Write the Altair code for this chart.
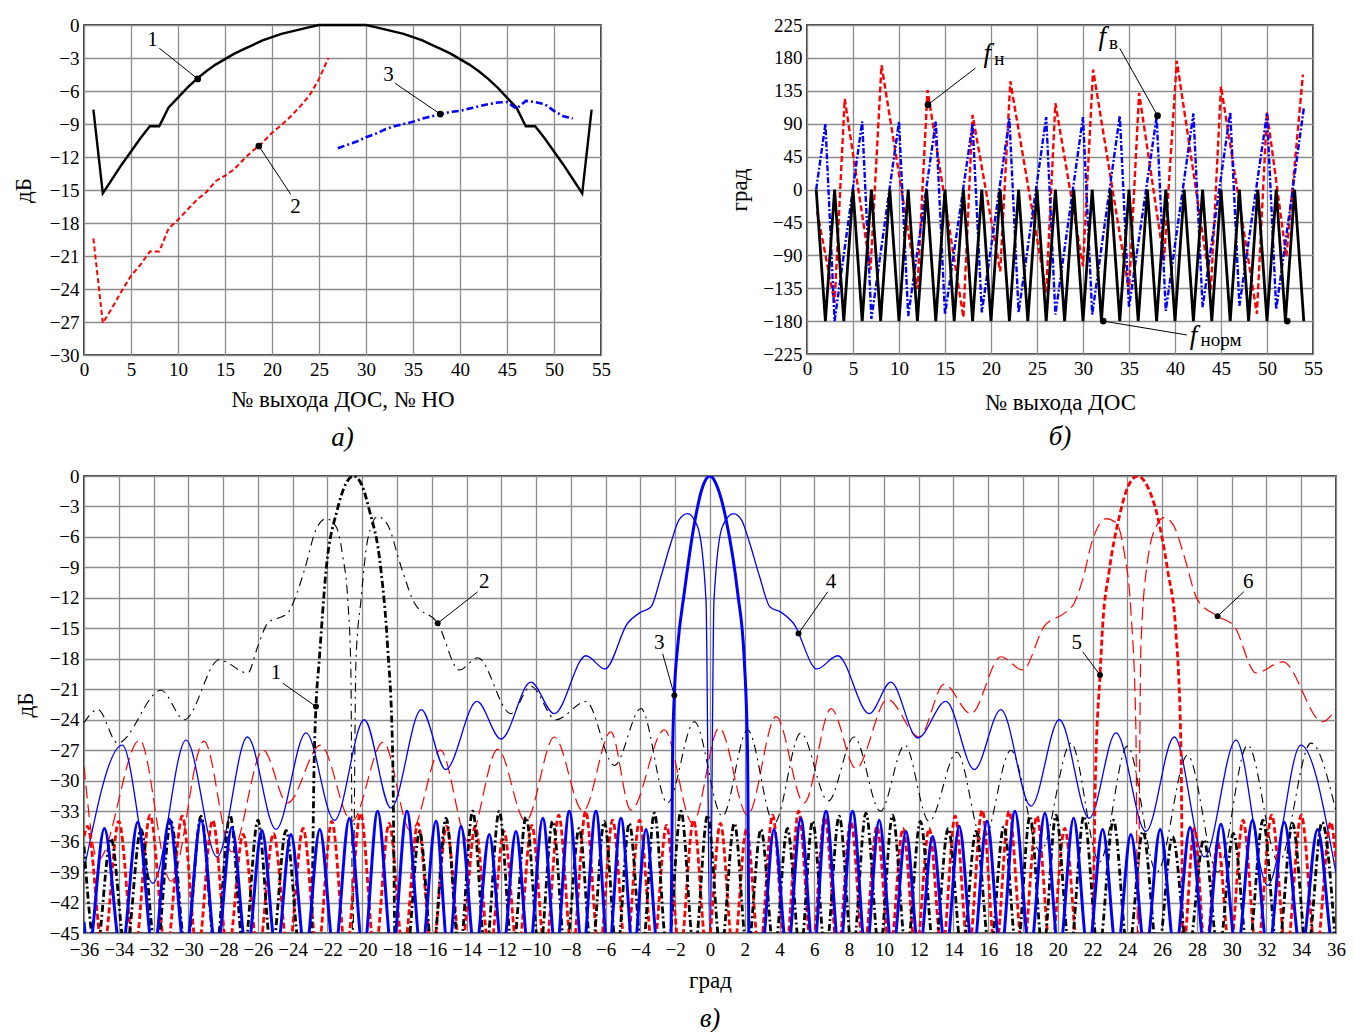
import altair as alt
import pandas as pd

FONT = "Liberation Serif"
RED = "#ff0000"
BLUE = "#0000ff"
BLACK = "#000000"

# ======================= Panel а) =======================
A_X1 = list(range(1, 55))
A_Y1 = [-7.7, -15.3, -14.0, -12.7, -11.5, -10.3, -9.2, -9.2, -7.5, -6.6,
        -5.7, -4.9, -4.2, -3.6, -3.1, -2.6, -2.2, -1.8, -1.4, -1.1,
        -0.8, -0.6, -0.4, -0.2, 0.0, 0.0, 0.0, 0.0, 0.0, 0.0,
        -0.2, -0.4, -0.6, -0.8, -1.1, -1.4, -1.8, -2.2, -2.6, -3.1,
        -3.6, -4.2, -4.9, -5.7, -6.6, -7.5, -9.2, -9.2, -10.3, -11.5,
        -12.7, -14.0, -15.3, -7.7]
A_X2 = list(range(1, 27))
A_Y2 = [-19.4, -27.1, -25.7, -24.2, -22.8, -21.8, -20.6, -20.6, -18.5, -17.7,
        -16.8, -15.9, -15.2, -14.2, -13.7, -13.1, -12.2, -11.4, -10.7, -9.8,
        -9.1, -8.3, -7.4, -6.4, -4.9, -3.0]
A_X3 = list(range(27, 53))
A_Y3 = [-11.2, -10.9, -10.6, -10.2, -9.9, -9.5, -9.2, -9.0, -8.8, -8.5,
        -8.3, -8.1, -7.9, -7.8, -7.6, -7.4, -7.2, -7.05, -7.0, -7.6,
        -6.9, -7.0, -7.2, -7.8, -8.3, -8.5]
A_LABEL_TEXT = ["1", "2", "3"]
A_LABEL_X = [7.3, 22.5, 32.4]
A_LABEL_Y = [-1.4, -16.5, -4.5]
A_DOT_X = [12.1, 18.6, 37.9]
A_DOT_Y = [-4.9, -11.0, -8.1]
A_LEAD_X = [8.0, 22.0, 33.1]
A_LEAD_Y = [-2.1, -15.4, -5.3]
A_XTICKS = [0, 5, 10, 15, 20, 25, 30, 35, 40, 45, 50, 55]
A_YTICKS = [0, -3, -6, -9, -12, -15, -18, -21, -24, -27, -30]

# ======================= Panel б) =======================
B_RED_X = [1.1, 3.0, 4.1, 6.9, 8.1, 12.0, 13.1, 17.0, 18.0, 21.0, 22.1, 26.0, 27.0,
           30.0, 31.1, 35.0, 36.1, 38.8, 40.2, 43.9, 45.0, 48.9, 50.0, 52.1, 53.9]
B_RED_Y = [-30, -155, 124, -110, 170, -136, 136, -175, 102, -112, 148, -141, 118,
           -105, 164, -139, 132, -97, 176, -137, 141, -170, 106, -92, 157]
B_BLUE_X = [1, 2, 3, 6, 7, 10, 11, 14, 15, 18, 19, 22, 23, 26, 27, 30, 31, 34, 35,
            38, 39, 42, 43, 46, 47, 50, 51, 54]
B_BLUE_Y = [0, 90, -180, 93, -177, 93, -173, 93, -171, 90, -168, 97, -168, 99, -171,
            99, -171, 101, -161, 99, -166, 104, -161, 106, -159, 104, -164, 111]
B_BLACK_X = list(range(1, 55))
B_BLACK_Y = [0, -180, 0, -180, 0, -180, 0, -180, 0, -180, 0, -180, 0, -180, 0, -180,
             0, -180, 0, -180, 0, -180, 0, -180, 0, -180, 0, -180, 0, -180, 0, -180,
             0, -180, 0, -180, 0, -180, 0, -180, 0, -180, 0, -180, 0, -180, 0, -180,
             0, -180, 0, -180, 0, -180]
B_DOT_X = [13.15, 38.1, 32.2, 52.2]
B_DOT_Y = [116, 101, -180, -180]
B_LEAD_X = [13.15, 38.1, 32.2]
B_LEAD_Y = [116, 101, -180]
B_LEAD_X2 = [18.3, 34.0, 41.3]
B_LEAD_Y2 = [166, 193, -199]
B_F_X = [19.6, 32.1, 42.0]
B_F_Y = [186, 209, -200]
B_SUB_TEXT = ["н", "в", "норм"]
B_SUB_X = [20.9, 33.3, 45.0]
B_SUB_Y = [179, 200, -206]
B_XTICKS = [0, 5, 10, 15, 20, 25, 30, 35, 40, 45, 50, 55]
B_YTICKS = [225, 180, 135, 90, 45, 0, -45, -90, -135, -180, -225]

# ======================= Panel в) =======================
NUL = -47  # lobes drop below the -45 dB frame

C1_X = [-36.0, -35.3, -34.45, -33.6, -32.72, -31.85, -31.0, -30.13, -29.27, -28.43, -27.6,
        -26.8, -26.0, -25.2, -24.38, -23.55,
        -22.95, -22.75, -22.66, -22.47, -22.08, -21.43, -20.95, -20.5, -20.05, -19.6, -18.92,
        -18.54, -18.25, -18.1,
        -17.45, -16.7, -15.95, -15.18, -14.4, -13.65, -12.9, -12.12, -11.35, -10.58, -9.8,
        -9.05, -8.3, -7.52, -6.8, -6.08, -5.35, -4.64, -3.9, -3.2, -2.45, -1.67, -0.9, -0.14,
        0.63, 1.4, 2.15, 2.93, 3.7, 4.45, 5.2, 5.9, 6.65, 7.43, 8.2, 8.97, 9.75, 10.5, 11.3,
        12.1, 12.9, 13.7, 14.5, 15.3, 16.1, 16.9, 17.65, 18.4, 19.15, 19.9, 20.7, 21.5, 22.35,
        23.2, 24.05, 24.9, 25.75, 26.6, 27.5, 28.4, 29.25, 30.1, 30.95, 31.8, 32.65, 33.5,
        34.35, 35.2, 36.0]
C1_Y = [-36.5, NUL, -35.7, NUL, -34.8, NUL, -34.0, NUL, -33.5, NUL, -33.4,
        NUL, -33.9, NUL, -34.9, NUL,
        NUL, -27.0, -22.7, -18.1, -9.3, -3.3, -0.8, 0.0, -0.8, -3.3, -9.3,
        -16.8, -27.3, NUL,
        NUL, -35.0, NUL, -33.7, NUL, -33.0, NUL, -33.0, NUL, -33.6, NUL,
        -34.0, NUL, -34.7, NUL, -34.0, NUL, -34.2, NUL, -33.2, NUL, -33.0, NUL, -33.4,
        NUL, -34.2, NUL, -34.8, NUL, -34.7, NUL, -34.0, NUL, -33.5, NUL, -33.2, NUL, -33.4, NUL,
        -34.0, NUL, -34.7, NUL, -35.0, NUL, -34.5, NUL, -33.5, NUL, -33.4, NUL, -33.5, NUL,
        -33.9, NUL, -35.0, NUL, -35.5, NUL, -35.8, NUL, -35.2, NUL, -33.9, NUL, -34.2,
        NUL, -34.1, NUL]

C2_X = [-36.0, -35.2, -34.06, -31.57, -30.23, -28.22, -26.59, -26.01, -25.44, -24.29, -23.9,
        -23.33, -22.66, -22.08, -21.5, -21.12, -20.83, -20.65, -20.55, -20.36, -20.07, -19.69,
        -19.11, -18.54, -17.77, -17.0, -15.66, -14.42, -13.36, -11.45, -10.3, -8.86, -7.13,
        -5.5, -3.97, -2.45, -0.9, 0.71, 2.16, 3.69, 5.22, 6.8, 8.29, 9.8, 11.2, 12.6, 14.2,
        15.7, 17.3, 19.0, 20.76, 22.4, 24.0, 25.7, 27.46, 29.2, 30.92, 32.7, 34.56, 36.0]
C2_Y = [-24.3, -23.0, -26.3, -21.1, -24.0, -18.1, -19.4, -16.8, -14.5, -13.5, -12.2,
        -9.3, -5.3, -4.2, -5.0, -7.9, -12.2, -19.4, NUL, -18.1, -12.2, -6.3,
        -4.0, -4.8, -8.9, -12.5, -14.5, -19.1, -17.9, -23.4, -20.7, -24.0, -22.2,
        -28.5, -22.9, -32.2, -24.2, -33.5, -25.0, -34.2, -25.3, -32.0, -25.7, -33.0, -26.5,
        -34.0, -27.2, -36.0, -27.0, -37.0, -26.3, -38.0, -26.6, -39.0, -27.5, -39.0, -26.5,
        -38.0, -26.3, -33.0]

C3_X = [-36.0, -35.75, -34.83, -33.85, -32.91, -32.0, -31.09, -30.18, -29.27, -28.38, -27.5,
        -26.63, -25.77, -24.93, -24.1, -23.27, -22.44, -21.6, -20.74, -19.93, -19.11, -18.27,
        -17.43, -16.6, -15.76, -15.04, -14.32, -13.5, -12.69, -11.93, -11.16, -10.4, -9.62,
        -8.85, -8.09, -7.32, -6.56, -5.84, -5.12, -4.4, -3.68, -2.95,
        -2.25, -2.15, -2.05, -1.86, -1.48, -0.9, -0.45, 0.0, 0.45, 0.95, 1.59, 1.97, 2.16, 2.25,
        2.95, 3.68, 4.45, 5.22, 5.95, 6.67, 7.45, 8.2, 8.97, 9.73, 10.5, 11.27, 12.03, 12.8,
        13.57, 14.33, 15.13, 15.93, 16.73, 17.54, 18.4, 19.26, 20.08, 20.91, 21.75, 22.58,
        23.4, 24.2, 25.05, 25.89, 26.75, 27.61, 28.5, 29.38, 30.3, 31.2, 32.1, 33.02, 34.0,
        34.94, 35.9, 36.0]
C3_Y = [-43.9, NUL, -34.7, NUL, -34.1, NUL, -33.8, NUL, -33.9, NUL, -34.6,
        NUL, -34.9, NUL, -35.3, NUL, -34.8, NUL, -33.7, NUL, -33.0, NUL,
        -33.0, NUL, -34.0, NUL, -34.5, NUL, -35.3, NUL, -35.0, NUL, -33.7,
        NUL, -33.0, NUL, -33.0, NUL, -33.7, NUL, -34.8, NUL,
        NUL, -27.3, -21.4, -16.8, -11.5, -4.7, -1.2, 0.0, -1.2, -4.5, -11.5, -18.1, -27.3, NUL,
        NUL, -34.8, NUL, -33.7, NUL, -33.0, NUL, -33.0, NUL, -33.9, NUL, -35.0, NUL, -35.5,
        NUL, -34.5, NUL, -34.0, NUL, -33.0, NUL, -33.2, NUL, -33.7, NUL, -34.8,
        NUL, -35.3, NUL, -34.8, NUL, -34.6, NUL, -34.3, NUL, -33.9, NUL, -34.1, NUL,
        -34.8, NUL, -45.5]

C4_X = [-36.0, -33.8, -32.05, -30.13, -28.35, -26.6, -24.96, -23.23, -21.6, -19.88, -18.35,
        -16.6, -15.2, -13.4, -12.02, -10.3, -8.96, -7.13, -6.04, -4.74, -3.97, -3.4, -2.82,
        -2.25, -1.77, -1.29, -0.71, -0.23, 0.0, 0.23, 0.71, 1.35, 1.8, 2.28, 2.85, 3.45, 4.08,
        4.8, 6.15, 7.34, 9.16, 10.4, 11.94, 13.57, 15.2, 16.73, 18.46, 20.09, 21.81, 23.35,
        25.07, 26.7, 28.43, 30.25, 32.07, 33.98, 36.0]
C4_Y = [-38.8, -26.5, -40.1, -26.0, -37.5, -25.7, -34.8, -25.3, -33.9, -24.0, -32.7,
        -23.0, -28.9, -22.2, -25.9, -20.3, -23.4, -17.7, -19.0, -14.5, -13.4, -12.9, -9.9,
        -6.6, -4.3, -3.7, -5.0, -12.2, NUL, -12.2, -5.0, -3.7, -4.3, -6.6, -9.9, -12.9, -13.4,
        -14.5, -19.0, -17.7, -23.4, -20.3, -25.8, -22.2, -28.9, -23.0, -32.5, -24.0, -33.7,
        -25.3, -35.0, -25.7, -37.5, -26.0, -40.3, -26.5, -39.1]

C5_X = [-36.0, -35.8, -34.9, -34.0, -33.1, -32.2, -31.27, -30.35, -29.47, -28.6, -27.72,
        -26.85, -25.97, -25.1, -24.25, -23.4, -22.57, -21.75, -20.92, -20.1, -19.27, -18.45,
        -17.62, -16.8, -15.97, -15.15, -14.32, -13.5, -12.67, -11.85, -11.05, -10.25, -9.47,
        -8.7, -7.92, -7.15, -6.37, -5.6, -4.82, -4.05, -3.27, -2.5, -1.72, -0.95, -0.17, 0.6,
        1.35, 2.1, 2.85, 3.6, 4.35, 5.1, 5.85, 6.6, 7.35, 8.1, 8.85, 9.6, 10.35, 11.1, 11.85,
        12.6, 13.35, 14.1, 14.87, 15.65, 16.42, 17.2, 18.0, 18.8, 19.6, 20.4, 21.2,
        21.95, 22.2, 22.43, 22.58, 22.96, 23.54, 24.05, 24.6, 25.15, 25.74, 26.32, 26.8, 27.09,
        27.2, 27.85, 28.5, 29.2, 29.9, 30.65, 31.45, 32.3, 33.15, 34.0, 34.85, 35.7, 36.0]
C5_Y = [-35.5, -34.5, NUL, -34.0, NUL, -33.4, NUL, -33.5, NUL, -33.9, NUL,
        -35.3, NUL, -35.2, NUL, -34.7, NUL, -34.0, NUL, -33.2, NUL, -34.2,
        NUL, -34.2, NUL, -34.5, NUL, -34.5, NUL, -35.0, NUL, -34.4, NUL,
        -33.4, NUL, -33.0, NUL, -33.9, NUL, -33.9, NUL, -34.4, NUL, -33.9, NUL, -34.2,
        NUL, -34.8, NUL, -33.4, NUL, -33.0, NUL, -33.5, NUL, -34.0, NUL, -34.5, NUL, -34.7, NUL,
        -34.7, NUL, -33.5, NUL, -32.9, NUL, -33.0, NUL, -33.5, NUL, -34.7, NUL,
        NUL, -27.3, -19.6, -14.8, -9.3, -4.0, -1.0, 0.0, -1.0, -4.0, -9.3, -15.5, -27.3,
        NUL, -34.7, NUL, -36.1, NUL, -33.9, NUL, -33.4, NUL, -33.4, NUL, -34.1, -38.0]

C6_X = [-36.0, -35.2, -32.8, -31.0, -29.1, -27.5, -25.7, -24.3, -22.4, -20.6, -18.8, -17.2,
        -15.5, -13.9, -12.2, -10.6, -8.95, -7.3, -5.7, -4.55, -2.63, -1.0, 0.53, 2.16, 3.8,
        5.41, 6.96, 8.39, 10.21, 12.03, 13.47, 15.0, 16.73, 17.98, 19.22, 20.38, 20.95, 21.43,
        22.0, 22.77, 23.35, 23.83, 24.2, 24.49, 24.6, 24.78, 25.17, 25.65, 26.12, 26.7, 27.27,
        28.04, 29.19, 30.15, 31.4, 32.93, 35.23, 36.0]
C6_Y = [-28.6, -37.8, -26.0, -39.9, -26.1, -37.0, -27.0, -32.2, -26.5, -34.0, -26.2, -35.0,
        -27.0, -36.0, -26.9, -34.0, -25.7, -33.0, -25.2, -32.9, -25.0, -34.2, -24.8, -33.4, -23.7,
        -32.2, -22.9, -28.8, -22.0, -25.7, -20.5, -23.4, -17.8, -19.1, -14.8, -13.5, -12.5, -10.2,
        -6.3, -4.2, -4.6, -7.6, -13.2, -24.7, NUL, -16.8, -8.3, -5.0, -4.1, -5.0, -7.9,
        -12.2, -13.8, -14.8, -19.4, -18.3, -24.2, -22.9]

C_LABEL_TEXT = ["1", "2", "3", "4", "5", "6"]
C_LABEL_X = [-24.96, -12.98, -2.92, 6.96, 21.09, 30.96]
C_LABEL_Y = [-19.4, -10.4, -16.4, -10.4, -16.4, -10.4]
C_DOT_X = [-22.66, -15.66, -2.05, 5.09, 22.43, 29.19]
C_DOT_Y = [-22.7, -14.5, -21.6, -15.5, -19.6, -13.8]
C_LEAD_X = [-24.57, -13.36, -2.72, 6.77, 21.43, 30.7]
C_LEAD_Y = [-20.4, -11.4, -17.5, -11.4, -17.3, -11.4]
C_XTICKS = list(range(-36, 37, 2))
C_YTICKS = [0, -3, -6, -9, -12, -15, -18, -21, -24, -27, -30, -33, -36, -39, -42, -45]


# ======================= helpers =======================
def enc(xdom, ydom, xticks, yticks, xtitle, ytitle, xtp, ytp, xlp=5):
    x = alt.X("x:Q", scale=alt.Scale(domain=xdom, nice=False, zero=False),
              axis=alt.Axis(values=xticks, title=xtitle, titlePadding=xtp, labelPadding=xlp,
                            labelOverlap=False, labelFlush=False, grid=True))
    y = alt.Y("y:Q", scale=alt.Scale(domain=ydom, nice=False, zero=False),
              axis=alt.Axis(values=yticks, title=ytitle, titlePadding=ytp,
                            labelOverlap=False, labelFlush=False, grid=True))
    return x, y


def line(xs, ys, X, Y, color, width, dash=None, interp="linear", clip=False):
    kw = dict(color=color, strokeWidth=width, interpolate=interp, clip=clip)
    if dash:
        kw["strokeDash"] = dash
    return alt.Chart(pd.DataFrame({"x": xs, "y": ys})).mark_line(**kw).encode(x=X, y=Y)


def leaders(xs, ys, x2s, y2s, X, Y):
    df = pd.DataFrame({"x": xs, "y": ys, "x2": x2s, "y2": y2s})
    return alt.Chart(df).mark_rule(color=BLACK, strokeWidth=1).encode(
        x=X, y=Y, x2="x2:Q", y2="y2:Q")


def dots(xs, ys, X, Y, size=45):
    return alt.Chart(pd.DataFrame({"x": xs, "y": ys})).mark_circle(
        color=BLACK, size=size, opacity=1).encode(x=X, y=Y)


def texts(xs, ys, labels, X, Y, size=21, style="normal"):
    df = pd.DataFrame({"x": xs, "y": ys, "t": labels})
    return alt.Chart(df).mark_text(font=FONT, fontSize=size, fontStyle=style,
                                   color=BLACK, align="center", baseline="middle").encode(
        x=X, y=Y, text="t:N")


def caption(txt, off):
    return alt.TitleParams(txt, orient="bottom", font=FONT, fontSize=27, fontStyle="italic",
                           fontWeight="normal", color=BLACK, offset=off, anchor="middle")


# ======================= Panel а =======================
XA, YA = enc([0, 55], [-30, 0], A_XTICKS, A_YTICKS, "№ выхода ДОС, № НО", "дБ", 9, 14)
panel_a = alt.layer(
    line(A_X1, A_Y1, XA, YA, BLACK, 2.4),
    line(A_X2, A_Y2, XA, YA, RED, 2.0, [5, 3]),
    line(A_X3, A_Y3, XA, YA, BLUE, 2.6, [7, 3, 2, 3]),
    leaders(A_DOT_X, A_DOT_Y, A_LEAD_X, A_LEAD_Y, XA, YA),
    dots(A_DOT_X, A_DOT_Y, XA, YA),
    texts(A_LABEL_X, A_LABEL_Y, A_LABEL_TEXT, XA, YA),
).properties(width=517, height=330, title=caption("а)", 14))

# ======================= Panel б =======================
XB, YB = enc([0, 55], [-225, 225], B_XTICKS, B_YTICKS, "№ выхода ДОС", "град", 13, 11)
panel_b = alt.layer(
    line(B_RED_X, B_RED_Y, XB, YB, RED, 2.4, [6, 3]),
    line(B_BLUE_X, B_BLUE_Y, XB, YB, BLUE, 2.4, [6, 2, 2, 2]),
    line(B_BLACK_X, B_BLACK_Y, XB, YB, BLACK, 2.8),
    leaders(B_LEAD_X, B_LEAD_Y, B_LEAD_X2, B_LEAD_Y2, XB, YB),
    dots(B_DOT_X, B_DOT_Y, XB, YB),
    texts(B_F_X, B_F_Y, ["f", "f", "f"], XB, YB, size=27, style="italic"),
    texts(B_SUB_X, B_SUB_Y, B_SUB_TEXT, XB, YB, size=19),
).properties(width=506, height=329, title=caption("б)", 10))

# ======================= Panel в =======================
XC, YC = enc([-36, 36], [-45, 0], C_XTICKS, C_YTICKS, "град", "дБ", 10, 12, xlp=7)
panel_c = alt.layer(
    line(C6_X, C6_Y, XC, YC, RED, 1.2, [13, 6], "monotone", True),
    line(C2_X, C2_Y, XC, YC, BLACK, 1.1, [9, 5, 2, 5], "monotone", True),
    line(C4_X, C4_Y, XC, YC, BLUE, 1.3, None, "monotone", True),
    line(C5_X, C5_Y, XC, YC, RED, 2.8, [6, 3], "monotone", True),
    line(C1_X, C1_Y, XC, YC, BLACK, 2.8, [7, 3, 2, 3], "monotone", True),
    line(C3_X, C3_Y, XC, YC, BLUE, 3.0, None, "monotone", True),
    leaders(C_DOT_X, C_DOT_Y, C_LEAD_X, C_LEAD_Y, XC, YC),
    dots(C_DOT_X, C_DOT_Y, XC, YC, size=35),
    texts(C_LABEL_X, C_LABEL_Y, C_LABEL_TEXT, XC, YC),
).properties(width=1252, height=457, title=caption("в)", 14))

top = alt.hconcat(panel_a, panel_b, spacing=116)
bottom = alt.hconcat(panel_c)

chart = alt.vconcat(top, bottom, spacing=14).properties(
    padding={"left": 3, "top": 7, "right": 0, "bottom": 0}
).configure_view(
    stroke=BLACK, strokeWidth=1.5
).configure_axis(
    gridColor="#8c8c8c", gridWidth=1.3, gridOpacity=1,
    labelFont=FONT, labelFontSize=19, labelColor=BLACK, labelPadding=5,
    titleFont=FONT, titleFontSize=23, titleFontWeight="normal", titleColor=BLACK,
    ticks=False, domain=False,
)

chart.save("out.html", embed_options={"renderer": "svg", "actions": False})
